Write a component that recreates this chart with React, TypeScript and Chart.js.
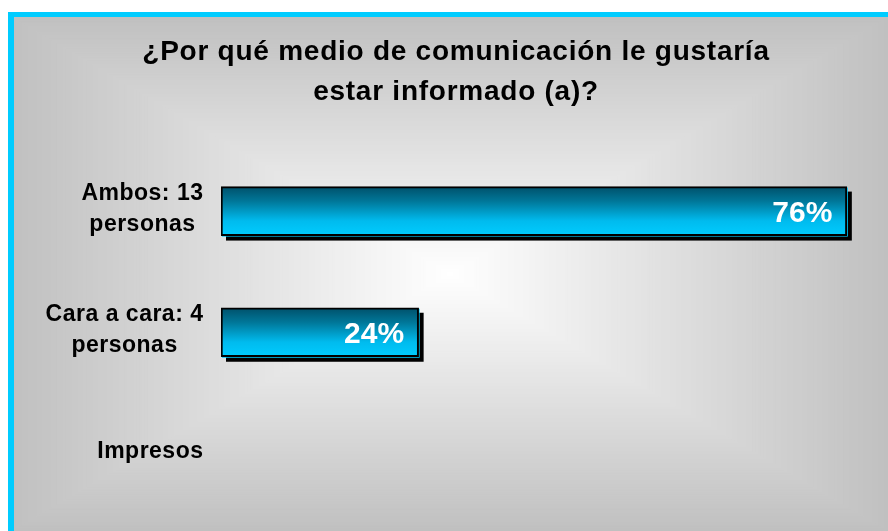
import React, { useEffect, useRef } from "react";
import { Chart, registerables } from "chart.js";

Chart.register(...registerables);

// ---- data ----
const categories: string[][] = [["Ambos: 13", "personas"], ["Cara a cara: 4", "personas"], ["Impresos"]];
const percentages: number[] = [76, 24, 0];
const titleLines: string[] = ["¿Por qué medio de comunicación le gustaría", "estar informado (a)?"];
const axisMax = 81;

const FONT = "'Liberation Sans', Arial, Helvetica, sans-serif";
const W = 888;
const H = 531;
const CYAN = "#00ccff";

const panelPlugin = {
  id: "panelPlugin",
  beforeDraw(chart: any) {
    const ctx: CanvasRenderingContext2D = chart.ctx;
    ctx.save();
    ctx.fillStyle = "#ffffff";
    ctx.fillRect(0, 0, W, H);
    ctx.fillStyle = CYAN;
    ctx.fillRect(8, 12, W - 8, H - 12);
    const px = 14;
    const py = 17;
    ctx.beginPath();
    ctx.rect(px, py, W - px, H - py);
    ctx.clip();
    const cx = 450;
    const cy = 274;
    const hw = 440;
    const hh = 258;
    const N = 150;
    for (let k = N; k >= 1; k--) {
      const t = k / N;
      const v = Math.round(255 - 63 * t);
      ctx.fillStyle = `rgb(${v},${v},${v})`;
      ctx.fillRect(cx - hw * t, cy - hh * t, 2 * hw * t, 2 * hh * t);
    }
    ctx.restore();
    (ctx as any).letterSpacing = "0.75px";
  },
  beforeDatasetsDraw(chart: any) {
    const ctx: CanvasRenderingContext2D = chart.ctx;
    (ctx as any).letterSpacing = "0px";
    const meta = chart.getDatasetMeta(0);
    ctx.save();
    meta.data.forEach((bar: any, i: number) => {
      if (!percentages[i]) return;
      const { x, y, base, height } = bar.getProps(["x", "y", "base", "height"], true);
      const left = Math.min(x, base);
      const w = Math.abs(x - base);
      const top = y - height / 2;
      ctx.fillStyle = "#000000";
      ctx.fillRect(left + 5, top + 5, w, height);
      ctx.fillStyle = CYAN;
      ctx.fillRect(left + 1, top + 1, w, height);
    });
    ctx.restore();
  },
  afterDatasetsDraw(chart: any) {
    const ctx: CanvasRenderingContext2D = chart.ctx;
    const meta = chart.getDatasetMeta(0);
    ctx.save();
    // value labels
    (ctx as any).letterSpacing = "0px";
    ctx.font = `bold 30px ${FONT}`;
    ctx.fillStyle = "#ffffff";
    ctx.textAlign = "right";
    ctx.textBaseline = "alphabetic";
    meta.data.forEach((bar: any, i: number) => {
      if (!percentages[i]) return;
      const { x, y } = bar.getProps(["x", "y"], true);
      ctx.fillText(`${percentages[i]}%`, x - 14.5, y + 10.7);
    });
    // category labels
    const yScale = chart.scales.y;
    const spacing = 0.5;
    const size = 23;
    (ctx as any).letterSpacing = `${spacing}px`;
    ctx.font = `bold ${size}px ${FONT}`;
    ctx.fillStyle = "#000000";
    ctx.textAlign = "left";
    const lh = 31;
    const capH = size * 0.716;
    const blockRight = 203;
    categories.forEach((lines, i) => {
      const yc = yScale.getPixelForValue(i);
      const widths = lines.map((l) => ctx.measureText(l).width - spacing);
      const blockW = Math.max(...widths);
      const center = blockRight - blockW / 2;
      const n = lines.length;
      const first = yc - ((n - 1) * lh) / 2 + capH / 2 - 3.5;
      lines.forEach((line, j) => {
        ctx.fillText(line, center - widths[j] / 2, first + j * lh);
      });
    });
    ctx.restore();
  },
};

export default function App() {
  const ref = useRef<HTMLCanvasElement>(null);
  useEffect(() => {
    if (!ref.current) return;
    const chart = new Chart(ref.current, {
      type: "bar",
      data: {
        labels: categories,
        datasets: [
          {
            data: percentages,
            barThickness: 49,
            borderWidth: 2,
            borderColor: "#000000",
            borderSkipped: false,
            backgroundColor: (c: any) => {
              const ch = c.chart;
              if (!ch.chartArea || !ch.scales.y || c.dataIndex == null) return "#0099cc";
              const yc = ch.scales.y.getPixelForValue(c.dataIndex);
              const g = ch.ctx.createLinearGradient(0, yc - 24.5, 0, yc + 24.5);
              g.addColorStop(0, "#00506a");
              g.addColorStop(0.3, "#007799");
              g.addColorStop(0.7, "#00bbee");
              g.addColorStop(1, "#00ccff");
              return g;
            },
          } as any,
        ],
      },
      options: {
        indexAxis: "y",
        responsive: false,
        animation: false,
        events: [],
        layout: { padding: { left: 24, right: 0, top: 0, bottom: 17 } },
        scales: {
          x: { display: false, min: 0, max: axisMax },
          y: {
            display: true,
            ticks: { display: false },
            grid: { display: false },
            border: { display: false },
            afterFit: (scale: any) => {
              scale.width = 197;
            },
          },
        },
        plugins: {
          legend: { display: false },
          tooltip: { enabled: false },
          title: {
            display: true,
            text: titleLines,
            color: "#000000",
            font: { family: FONT, size: 28, weight: "bold", lineHeight: 40 / 28 },
            padding: { top: 32.3, bottom: 38.2 },
          },
        },
      } as any,
      plugins: [panelPlugin],
    });
    return () => chart.destroy();
  }, []);
  return (
    <canvas
      ref={ref}
      width={W}
      height={H}
      style={{ position: "fixed", left: 0, top: 0, display: "block" }}
    />
  );
}
